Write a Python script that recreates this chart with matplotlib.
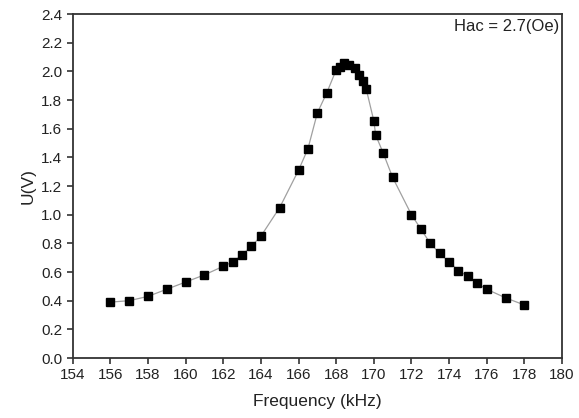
import matplotlib
matplotlib.use("Agg")
import matplotlib.pyplot as plt

freq_khz = [156, 157, 158, 159, 160, 161, 162, 162.5, 163, 163.5, 164, 165, 166,
            166.5, 167, 167.5, 168, 168.2, 168.4, 168.7, 169, 169.2, 169.4, 169.6,
            170, 170.1, 170.5, 171, 172, 172.5, 173, 173.5, 174, 174.5, 175, 175.5,
            176, 177, 178]
voltage = [0.39, 0.40, 0.43, 0.48, 0.53, 0.58, 0.64, 0.67, 0.72, 0.78, 0.85, 1.05, 1.31,
           1.46, 1.71, 1.85, 2.01, 2.03, 2.06, 2.045, 2.02, 1.975, 1.93, 1.875,
           1.655, 1.555, 1.43, 1.26, 1.00, 0.90, 0.80, 0.73, 0.67, 0.61, 0.57, 0.52,
           0.48, 0.42, 0.37]
x_ticks = list(range(154, 181, 2))
y_ticks = [0.0, 0.2, 0.4, 0.6, 0.8, 1.0, 1.2, 1.4, 1.6, 1.8, 2.0, 2.2, 2.4]
annotation = "Hac = 2.7(Oe)"

plt.rcParams['font.family'] = ['Liberation Sans', 'DejaVu Sans']

fig = plt.figure(figsize=(5.79, 4.18), dpi=100)
ax = fig.add_axes([0.1256, 0.1435, 0.845, 0.823])

ax.plot(freq_khz, voltage, color='#a0a0a0', lw=0.9, zorder=1)
ax.plot(freq_khz, voltage, ls='none', marker='s', ms=6.3, color='black', zorder=2)

ax.set_xlim(154, 180)
ax.set_ylim(0, 2.4)
ax.set_xticks(x_ticks)
ax.set_yticks(y_ticks)
ax.set_yticklabels([f"{v:.1f}" for v in y_ticks])

for s in ax.spines.values():
    s.set_linewidth(1.3)
    s.set_color('#333333')
ax.tick_params(direction='out', length=4, width=1.2, color='#333333',
               labelsize=11, labelcolor='#222222', top=False, right=False)

ax.set_xlabel("Frequency (kHz)", fontsize=12.5, color='#222222', labelpad=8)
ax.set_ylabel("U(V)", fontsize=12.5, color='#222222', labelpad=4)

ax.text(0.995, 0.985, annotation, transform=ax.transAxes, ha='right', va='top',
        fontsize=12, color='#222222')

fig.savefig("out.png", dpi=100)
